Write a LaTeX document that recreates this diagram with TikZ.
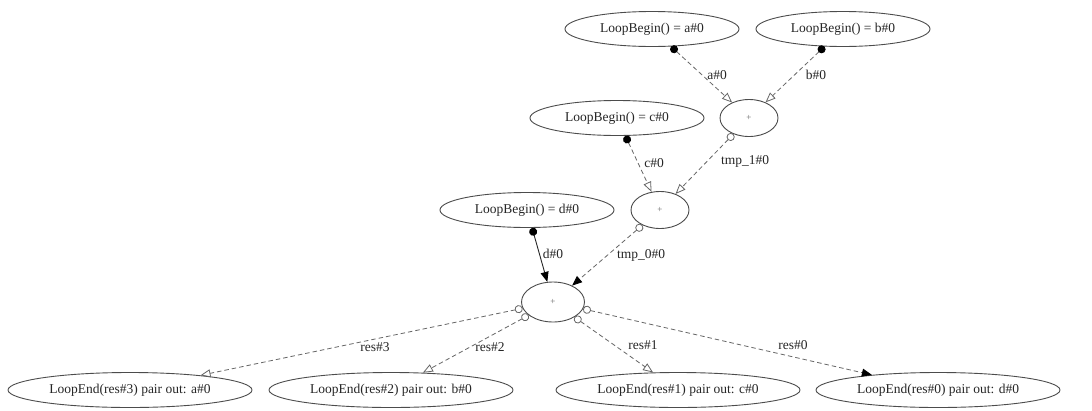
\documentclass[tikz,border=0pt]{standalone}
\usepackage{fontspec}
\setmainfont{Liberation Serif}
\usetikzlibrary{arrows.meta,shapes.geometric}

\begin{document}
\begin{tikzpicture}[x=1pt,y=-1pt,
  every node/.style={font=\fontsize{13.5}{16}\selectfont,text=black!85},
  lbnode/.style={ellipse,draw=black!70,line width=0.9pt,minimum width=174pt,minimum height=35pt,inner sep=0pt},
  lenode/.style={lbnode,minimum width=244pt},
  opnode/.style={ellipse,draw=black!70,line width=0.9pt,minimum width=58pt,minimum height=37pt,inner sep=0pt,
    font=\fontsize{9}{10}\selectfont,text=black!60},
  flow/.style={draw=black!60,line width=0.8pt,dash pattern=on 4.5pt off 3pt},
  solidflow/.style={draw=black!85,line width=0.9pt},
  dotsrc/.style={{Circle[length=8pt,color=black]}-{Triangle[open,length=10pt,width=8pt]}},
  odotsrc/.style={{Circle[open,length=8pt]}-{Triangle[open,length=10pt,width=8pt]}},
  odotfill/.style={{Circle[open,length=8pt]}-{Triangle[length=10pt,width=8pt,color=black]}},
  dotfill/.style={{Circle[length=8pt,color=black]}-{Triangle[length=10pt,width=8pt,color=black]}},
  lbl/.style={inner sep=0pt}
]
\useasboundingbox (0,0) rectangle (1092,410);
\fill[white] (0,0) rectangle (1092,410);

% sources
\node[lbnode] (a) at (652,29) {LoopBegin() = a\#0};
\node[lbnode] (b) at (843,29) {LoopBegin() = b\#0};
\node[lbnode] (c) at (617,118) {LoopBegin() = c\#0};
\node[lbnode] (d) at (527,210) {LoopBegin() = d\#0};

% additions
\node[opnode] (p1) at (749,118) {+};
\node[opnode] (p2) at (660,210) {+};
\node[opnode,minimum width=63pt,minimum height=40pt] (p3) at (553,302) {+};

% sinks
\node[lenode] (e3) at (130,390) {LoopEnd(res\#3) pair out: a\#0};
\node[lenode] (e2) at (391,390) {LoopEnd(res\#2) pair out: b\#0};
\node[lenode] (e1) at (678,390) {LoopEnd(res\#1) pair out: c\#0};
\node[lenode] (e0) at (938,390) {LoopEnd(res\#0) pair out: d\#0};

% edges
\draw[flow,dotsrc] (a) -- (p1);
\draw[flow,dotsrc] (b) -- (p1);
\draw[flow,dotsrc] (c) -- (p2);
\draw[flow,odotsrc] (p1) -- (p2);
\draw[solidflow,dotfill] (d) -- (p3);
\draw[flow,odotfill] (p2) -- (p3);
\draw[flow,odotsrc] (p3) -- (e3);
\draw[flow,odotsrc] (p3) -- (e2);
\draw[flow,odotsrc] (p3) -- (e1);
\draw[flow,odotfill] (p3) -- (e0);

% edge labels
\node[lbl] (la) at (717,75) {a\#0};
\node[lbl] (lb) at (816,75) {b\#0};
\node[lbl] (lc) at (654,163) {c\#0};
\node[lbl] (lt1) at (745,161) {tmp\_1\#0};
\node[lbl] (ld) at (553,254) {d\#0};
\node[lbl] (lt0) at (641,255) {tmp\_0\#0};
\node[lbl] (lr3) at (375,347) {res\#3};
\node[lbl] (lr2) at (490,347) {res\#2};
\node[lbl] (lr1) at (643,345) {res\#1};
\node[lbl] (lr0) at (793,345) {res\#0};
\end{tikzpicture}
\end{document}
